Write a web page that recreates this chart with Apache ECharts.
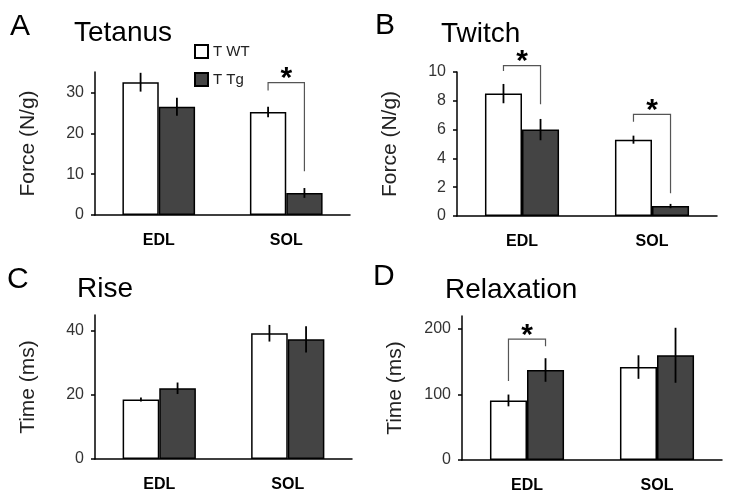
<!DOCTYPE html>
<html>
<head>
<meta charset="utf-8">
<script src="https://cdn.jsdelivr.net/npm/echarts@6/dist/echarts.min.js"></script>
<style>
html,body{margin:0;padding:0;background:#fff;}
#chart{width:729px;height:497px;}
</style>
</head>
<body>
<div id="chart"></div>
<script>
// ---- data ----
const categories = ['EDL', 'SOL'];
const seriesNames = ['T WT', 'T Tg'];
const panelLetters = ['A', 'B', 'C', 'D'];
const panelTitles = ['Tetanus', 'Twitch', 'Rise', 'Relaxation'];
const yAxisNames = ['Force (N/g)', 'Force (N/g)', 'Time (ms)', 'Time (ms)'];

const tetanusWT = [32.5, 25.2];
const tetanusTg = [26.5, 5.4];
const tetanusWTErr = [2.3, 1.3];
const tetanusTgErr = [2.2, 1.2];

const twitchWT = [8.5, 5.3];
const twitchTg = [6.0, 0.69];
const twitchWTErr = [0.67, 0.28];
const twitchTgErr = [0.74, 0.15];

const riseWT = [18.6, 39.3];
const riseTg = [22.1, 37.4];
const riseWTErr = [0.6, 2.6];
const riseTgErr = [1.8, 4.1];

const relaxWT = [91, 142];
const relaxTg = [137.5, 160];
const relaxWTErr = [9, 18];
const relaxTgErr = [18, 42];

const yTickValues = [[0, 10, 20, 30], [0, 2, 4, 6, 8, 10], [0, 20, 40], [0, 100, 200]];
const yMaxValues = [35, 10, 45, 220];
const yIntervals = [10, 2, 20, 100];

// significance brackets: [panel, category index, top, left leg bottom, right leg bottom]
const brackets = [
  [0, 1, 32.4, 30.5, 10.7],
  [1, 0, 10.44, 10.07, 7.76],
  [1, 1, 7.06, 6.55, 1.58],
  [3, 0, 184.7, 120.8, 173.7]
];

// ---- build ----
const wtData = [tetanusWT, twitchWT, riseWT, relaxWT];
const tgData = [tetanusTg, twitchTg, riseTg, relaxTg];
const wtErr = [tetanusWTErr, twitchWTErr, riseWTErr, relaxWTErr];
const tgErr = [tetanusTgErr, twitchTgErr, riseTgErr, relaxTgErr];

const grids = [
  {left: 95, top: 72, width: 255, height: 143},
  {left: 457, top: 72, width: 260, height: 144},
  {left: 95, top: 315, width: 257, height: 144},
  {left: 462, top: 316, width: 260, height: 144}
];

const CAT_GAP = 0.43;
const FONT = '"Liberation Sans", Arial, sans-serif';

const xAxes = [], yAxes = [], series = [];
for (let p = 0; p < 4; p++) {
  xAxes.push({
    gridIndex: p, type: 'category', data: categories,
    axisLine: {lineStyle: {color: '#000', width: 1.5}},
    axisTick: {show: false},
    axisLabel: {color: '#000', fontWeight: 'bold', fontSize: 16, fontFamily: FONT, margin: 18}
  });
  yAxes.push({
    gridIndex: p, type: 'value', min: 0, max: yMaxValues[p], interval: yIntervals[p],
    name: yAxisNames[p], nameLocation: 'middle', nameRotate: 90, nameGap: 56,
    nameTextStyle: {color: '#222', fontSize: 21, fontFamily: FONT},
    axisLine: {show: true, lineStyle: {color: '#000', width: 1.5}},
    axisTick: {show: true, length: 4, customValues: yTickValues[p], lineStyle: {color: '#000', width: 1.5}},
    axisLabel: {customValues: yTickValues[p], color: '#333', fontSize: 16, fontFamily: FONT, margin: 11},
    splitLine: {show: false}
  });
  const common = {
    type: 'bar', xAxisIndex: p, yAxisIndex: p, barGap: 0, barCategoryGap: (CAT_GAP * 100) + '%',
    animation: false
  };
  series.push(Object.assign({}, common, {
    name: seriesNames[0], data: wtData[p],
    itemStyle: {color: '#ffffff', borderColor: '#000', borderWidth: 1.5}
  }));
  series.push(Object.assign({}, common, {
    name: seriesNames[1], data: tgData[p],
    itemStyle: {color: '#444444', borderColor: '#000', borderWidth: 1.5}
  }));
  const errItems = [];
  for (let c = 0; c < categories.length; c++) {
    errItems.push([c, wtData[p][c], wtErr[p][c], 0]);
    errItems.push([c, tgData[p][c], tgErr[p][c], 1]);
  }
  series.push({
    type: 'custom', xAxisIndex: p, yAxisIndex: p, data: errItems, z: 5, animation: false,
    silent: true,
    renderItem: function (params, api) {
      const c = api.value(0), v = api.value(1), e = api.value(2), s = api.value(3);
      const band = api.size([1, 0])[0];
      const bw = band * (1 - CAT_GAP) / 2;
      const cx = api.coord([c, v])[0] + (s === 0 ? -bw / 2 : bw / 2);
      const y1 = api.coord([c, v - e])[1];
      const y2 = api.coord([c, v + e])[1];
      return {type: 'line', shape: {x1: cx, y1: y1, x2: cx, y2: y2},
        style: {stroke: '#000', lineWidth: 1.8}};
    }
  });
  const brItems = brackets.filter(b => b[0] === p).map(b => [b[1], b[2], b[3], b[4]]);
  if (brItems.length) {
    series.push({
      type: 'custom', xAxisIndex: p, yAxisIndex: p, data: brItems, z: 6, animation: false,
      silent: true, clip: false,
      renderItem: function (params, api) {
        const c = api.value(0);
        const band = api.size([1, 0])[0];
        const bw = band * (1 - CAT_GAP) / 2;
        const cx = api.coord([c, 0])[0];
        const lx = cx - bw / 2, rx = cx + bw / 2;
        const yTop = api.coord([c, api.value(1)])[1];
        const yL = api.coord([c, api.value(2)])[1];
        const yR = api.coord([c, api.value(3)])[1];
        return {type: 'group', children: [
          {type: 'polyline', shape: {points: [[lx, yL], [lx, yTop], [rx, yTop], [rx, yR]]},
            style: {stroke: '#555', lineWidth: 1.2, fill: null}},
          {type: 'text', style: {text: '*', x: cx, y: yTop - 3.5, align: 'center', verticalAlign: 'middle',
            fontSize: 30, fontWeight: 'bold', fontFamily: FONT, fill: '#000'}}
        ]};
      }
    });
  }
}

const letterPos = [[10, 24], [375, 23], [7, 277], [373, 274]];
const titlePos = [[74, 31], [441, 32], [77, 287], [445, 288]];
const graphics = [];
for (let p = 0; p < 4; p++) {
  graphics.push({type: 'text', left: letterPos[p][0], top: letterPos[p][1] - 12,
    style: {text: panelLetters[p], fontSize: 30, fontFamily: FONT, fill: '#000'}});
  graphics.push({type: 'text', left: titlePos[p][0], top: titlePos[p][1] - 12,
    style: {text: panelTitles[p], fontSize: 28, fontFamily: FONT, fill: '#000'}});
}

const option = {
  backgroundColor: '#fff',
  animation: false,
  grid: grids,
  xAxis: xAxes,
  yAxis: yAxes,
  series: series,
  legend: {
    data: seriesNames, orient: 'vertical', left: 189, top: 39,
    icon: 'rect', itemWidth: 13, itemHeight: 13, itemGap: 13,
    textStyle: {fontSize: 15, fontFamily: FONT, color: '#222'},
    selectedMode: false
  },
  graphic: graphics
};

const chart = echarts.init(document.getElementById('chart'), null, {renderer: 'canvas'});
chart.setOption(option);
</script>
</body>
</html>
